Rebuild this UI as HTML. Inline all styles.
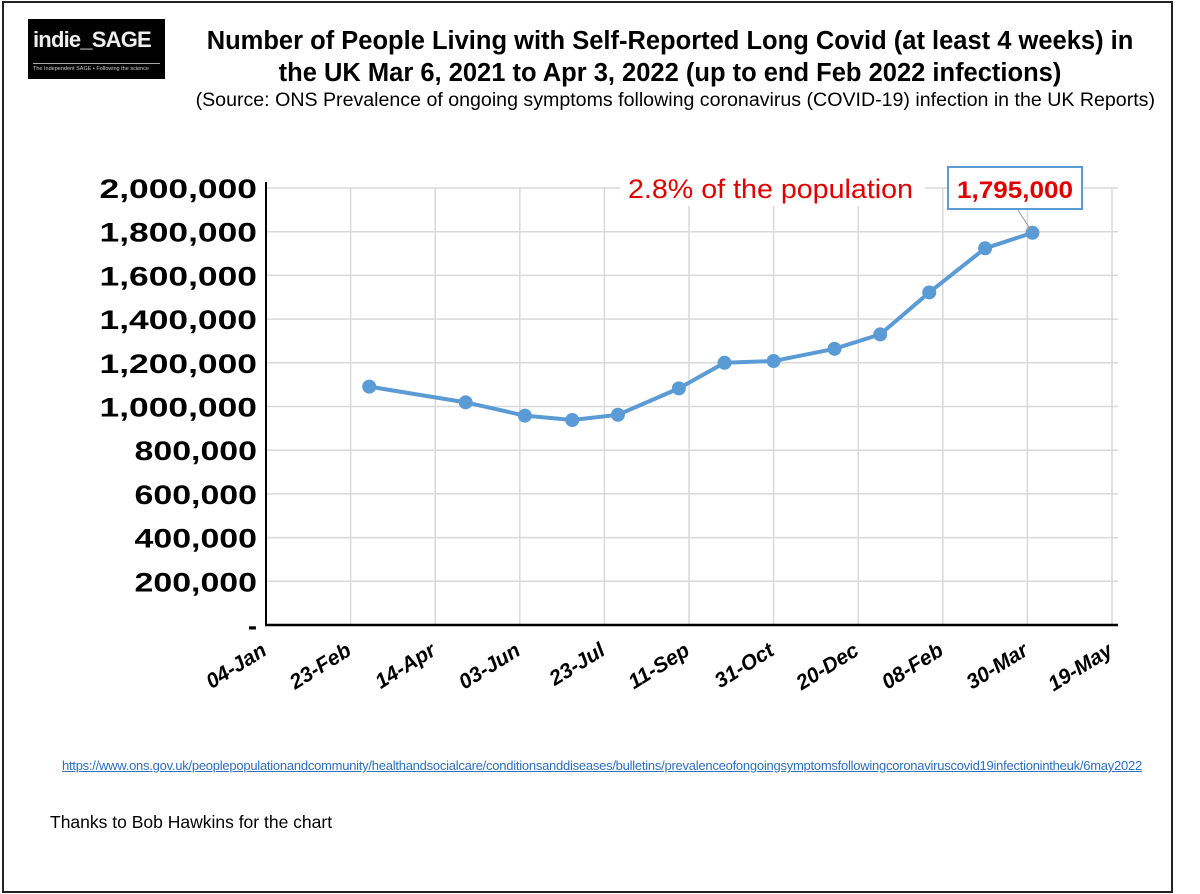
<!DOCTYPE html>
<html><head><meta charset="utf-8">
<style>
html,body{margin:0;padding:0;background:#fff;}
body{width:1200px;height:894px;position:relative;overflow:hidden;font-family:"Liberation Sans",Arial,sans-serif;}
</style></head>
<body>
<div style="position:absolute;left:2px;top:1px;width:1167px;height:888px;border:2px solid #222;"></div>
<div style="position:absolute;left:28px;top:19px;width:137px;height:60px;background:#000;">
  <div style="position:absolute;left:5px;top:8px;color:#eee;font-size:22px;font-weight:bold;letter-spacing:-0.8px;">indie_SAGE</div>
  <div style="position:absolute;left:5px;top:44px;width:127px;height:1px;background:#aaa;"></div>
  <div style="position:absolute;left:5px;top:47px;color:#ccc;font-size:5.5px;white-space:nowrap;">The Independent SAGE • Following the science</div>
</div>
<div style="position:absolute;left:170px;top:25px;width:1000px;text-align:center;font-weight:bold;font-size:25.5px;line-height:32px;color:#000;white-space:nowrap;">Number of People Living with Self-Reported Long Covid (at least 4 weeks) in<br>the UK Mar 6, 2021 to Apr 3, 2022 (up to end Feb 2022 infections)</div>
<div style="position:absolute;left:150px;top:89px;width:1005px;text-align:right;font-size:19.6px;color:#000;white-space:nowrap;">(Source: ONS Prevalence of ongoing symptoms following coronavirus (COVID-19) infection in the UK Reports)</div>

<svg id="chart" width="1200" height="894" style="position:absolute;left:0;top:0;"></svg>

<div style="position:absolute;left:62px;top:758px;font-size:13px;color:#2e6fc0;text-decoration:underline;white-space:nowrap;font-family:'Liberation Sans',sans-serif;letter-spacing:-0.25px;">https://www.ons.gov.uk/peoplepopulationandcommunity/healthandsocialcare/conditionsanddiseases/bulletins/prevalenceofongoingsymptomsfollowingcoronaviruscovid19infectionintheuk/6may2022</div>
<div style="position:absolute;left:50px;top:812px;font-size:17.5px;color:#000;">Thanks to Bob Hawkins for the chart</div>

<script>
const dayOffsets = [61,118,153,181,208,244,271,300,336,363,392,425,453];
const values = [1091000,1019000,958000,938000,962000,1083000,1200000,1208000,1264000,1330000,1522000,1724000,1795000];
const yTicks = [0,200000,400000,600000,800000,1000000,1200000,1400000,1600000,1800000,2000000];
const yTickLabels = ["-","200,000","400,000","600,000","800,000","1,000,000","1,200,000","1,400,000","1,600,000","1,800,000","2,000,000"];
const xTickDays = [0,50,100,150,200,250,300,350,400,450,500];
const xTickLabels = ["04-Jan","23-Feb","14-Apr","03-Jun","23-Jul","11-Sep","31-Oct","20-Dec","08-Feb","30-Mar","19-May"];

const NS="http://www.w3.org/2000/svg";
const svg=document.getElementById('chart');
const X0=266, X1=1112, Y0=625, Y1=188;
const xs=d=>X0+(d/500)*(X1-X0);
const ys=v=>Y0-(v/2000000)*(Y0-Y1);
function mk(t,a){const e=document.createElementNS(NS,t);for(const k in a)e.setAttribute(k,a[k]);svg.appendChild(e);return e;}

yTicks.forEach((v,i)=>{
  if(v>0){const g=mk('line',{x1:X0,x2:X1+6,y1:ys(v),y2:ys(v),stroke:'#d9d9d9','stroke-width':1.5});
  
  }
  const lab=yTickLabels[i];
  const a={x:257,y:ys(v)+10,'text-anchor':'end','font-size':27,'font-weight':'bold','font-family':'Liberation Sans, sans-serif',fill:'#000'};
  if(lab.length>1){a.textLength=lab.length*17.5;a.lengthAdjust='spacingAndGlyphs';}
  const t=mk('text',a);
  t.textContent=lab;
  
  
});
xTickDays.forEach((d,i)=>{
  if(d>0){const g=mk('line',{x1:xs(d),x2:xs(d),y1:Y1,y2:Y0,stroke:'#d9d9d9','stroke-width':1.5});
  
  }
  const t=mk('text',{x:0,y:0,'text-anchor':'end','font-size':21,'font-weight':'bold','font-style':'italic','font-family':'Liberation Sans, sans-serif',fill:'#000',transform:`translate(${xs(d)+2},${654}) rotate(-32)`});
  t.textContent=xTickLabels[i];
  
  
});
const ya=mk('line',{x1:X0,x2:X0,y1:Y1-6,y2:Y0+1,stroke:'#000','stroke-width':2});


const xa=mk('line',{x1:X0-1,x2:X1+6,y1:Y0,y2:Y0,stroke:'#000','stroke-width':2.5});



const pts=dayOffsets.map((d,i)=>xs(d)+','+ys(values[i])).join(' ');
const line=mk('polyline',{points:pts,fill:'none',stroke:'#5b9bd5','stroke-width':4,'stroke-linejoin':'round'});


dayOffsets.forEach((d,i)=>{
  const c=mk('circle',{cx:xs(d),cy:ys(values[i]),r:7,fill:'#5b9bd5'});
  
  
});
const last=dayOffsets.length-1;
const lx=xs(dayOffsets[last]), ly=ys(values[last]);
const bg=mk('rect',{x:620,y:170,width:305,height:36,fill:'#fff'});


const at=mk('text',{x:628,y:198,'font-size':27,'font-family':'Liberation Sans, sans-serif',fill:'#e00000',textLength:285,lengthAdjust:'spacingAndGlyphs'});
at.textContent='2.8% of the population';


const ld=mk('line',{x1:1018,y1:210,x2:lx,y2:ly,stroke:'#999','stroke-width':1});


const box=mk('rect',{x:948,y:167,width:134,height:42,fill:'#fff',stroke:'#5b9bd5','stroke-width':2});


const bt=mk('text',{x:1015,y:198,'text-anchor':'middle','font-size':24,'font-weight':'bold','font-family':'Liberation Sans, sans-serif',fill:'#e00000',textLength:116,lengthAdjust:'spacingAndGlyphs'});
bt.textContent='1,795,000';


</script>
</body></html>
